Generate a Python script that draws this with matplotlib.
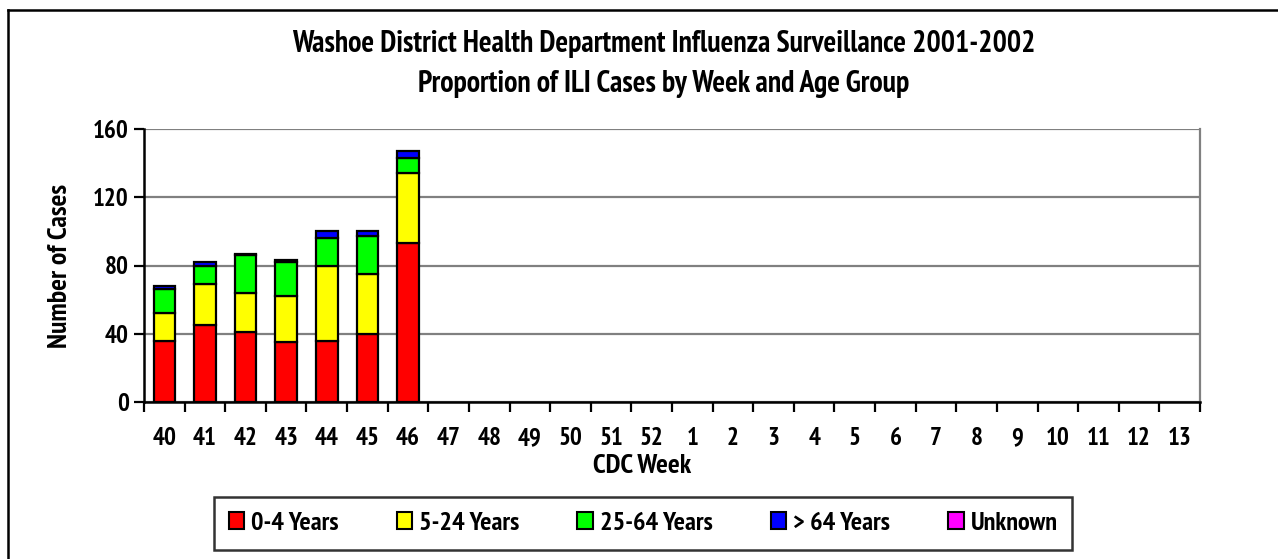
import matplotlib
matplotlib.use("Agg")
import matplotlib.pyplot as plt
from matplotlib import font_manager
from matplotlib.patches import Patch
from matplotlib.lines import Line2D
import numpy as np

# ---- data ----
weeks = ["40", "41", "42", "43", "44", "45", "46", "47", "48", "49", "50", "51", "52",
         "1", "2", "3", "4", "5", "6", "7", "8", "9", "10", "11", "12", "13"]
age_0_4 = [36, 45, 41, 35, 36, 40, 93]
age_5_24 = [16, 24, 23, 27, 44, 35, 41]
age_25_64 = [14, 11, 22, 20, 16, 22, 9]
age_65_plus = [2, 2, 1, 1, 4, 3, 4]
age_unknown = [0, 0, 0, 0, 0, 0, 0]
series_names = ["0-4 Years", "5-24 Years", "25-64 Years", "> 64 Years", "Unknown"]
series_colors = ["#FF0000", "#FFFF00", "#00FF00", "#0000FF", "#FF00FF"]
title_text = ("Washoe District Health Department Influenza Surveillance 2001-2002\n"
              "Proportion of ILI Cases by Week and Age Group")
y_ticks = [0, 40, 80, 120, 160]

bold_names = {f.name for f in font_manager.fontManager.ttflist
              if (f.weight if isinstance(f.weight, int) else 400) >= 600 or f.weight == "bold"}
prefs = ["Liberation Sans Narrow", "Arial Narrow", "PT Sans Narrow", "Roboto Condensed",
         "Open Sans Condensed", "Asap Condensed", "Barlow Semi Condensed", "Liberation Sans"]
fam = [f for f in prefs if f in bold_names][:1]
plt.rcParams["font.family"] = fam + ["DejaVu Sans"]
plt.rcParams["font.weight"] = "bold"

W, H = 1278, 559
fig = plt.figure(figsize=(W / 100, H / 100), dpi=100)
ax = fig.add_axes([144 / W, 1 - 402 / H, (1200 - 144) / W, (402 - 129) / H])

all_series = [age_0_4, age_5_24, age_25_64, age_65_plus, age_unknown]
x = np.arange(len(age_0_4))
bottom = np.zeros(len(x))
for vals, name, col in zip(all_series, series_names, series_colors):
    v = np.array(vals, dtype=float)
    if v.sum() > 0:
        ax.bar(x, v, width=0.53, bottom=bottom, color=col, edgecolor="black",
               linewidth=1.6, zorder=3)
    bottom += v

ax.set_xlim(-0.5, len(weeks) - 0.5)
ax.set_ylim(0, 160)
ax.set_yticks(y_ticks)
ax.set_xticks(np.arange(len(weeks)))
ax.set_xticklabels(weeks)
ax.set_xticks(np.arange(-0.5, len(weeks)), minor=True)
ax.tick_params(axis="x", which="major", length=0, pad=18, labelsize=18)
ax.tick_params(axis="x", which="minor", length=7, width=1.6, direction="out")
ax.tick_params(axis="y", length=7, width=1.6, direction="out", labelsize=18, pad=4)
for lab in ax.get_xticklabels() + ax.get_yticklabels():
    lab.set_fontweight("bold")

ax.yaxis.grid(True, color="#808080", linewidth=1.6, zorder=0)
ax.set_axisbelow(True)
ax.spines["left"].set_linewidth(1.8)
ax.spines["bottom"].set_linewidth(1.8)
ax.spines["left"].set_zorder(4)
ax.spines["bottom"].set_zorder(4)
ax.spines["right"].set_color("#808080")
ax.spines["right"].set_linewidth(1.6)
ax.spines["top"].set_visible(False)

fig.text(60 / W, 1 - 266 / H, "Number of Cases", rotation=90, ha="center", va="center",
         fontsize=20, fontweight="bold")
fig.text(642 / W, 1 - 466 / H, "CDC Week", ha="center", va="center",
         fontsize=20, fontweight="bold")
fig.text(664 / W, 1 - 64 / H, title_text, ha="center", va="center", fontsize=21.5,
         fontweight="bold", linespacing=1.5)

handles = [Patch(facecolor=c, edgecolor="black", linewidth=1.5) for c in series_colors]
leg = fig.legend(handles, series_names, loc="center", ncol=5,
                 bbox_to_anchor=(643 / W, 1 - 523.5 / H),
                 handlelength=0.6, handleheight=0.6, handletextpad=0.25,
                 columnspacing=2.2, borderpad=0.55, borderaxespad=0,
                 frameon=True, fancybox=False,
                 prop={"weight": "bold", "size": 19, "family": fam + ["DejaVu Sans"]})
leg.get_frame().set_edgecolor("black")
leg.get_frame().set_linewidth(1.8)

# outer chart-area border (top and left visible)
fig.add_artist(Line2D([8 / W, 8 / W], [0, 1 - 10 / H], color="black", linewidth=1.8,
                      transform=fig.transFigure))
fig.add_artist(Line2D([8 / W, 1.0], [1 - 10 / H, 1 - 10 / H], color="black", linewidth=1.8,
                      transform=fig.transFigure))

fig.savefig("out.png", dpi=100)
